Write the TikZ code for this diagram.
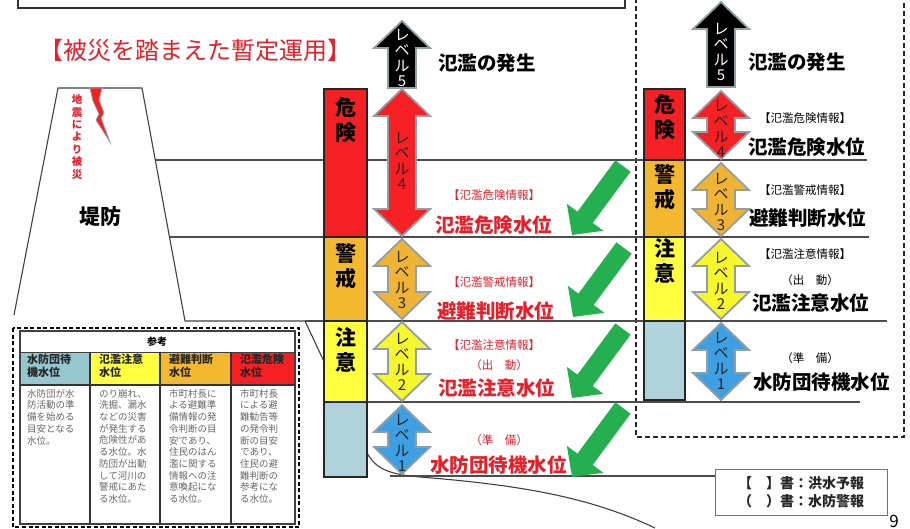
\documentclass[tikz,border=0pt]{standalone}
\usepackage{fontspec}
\setmainfont{Noto Sans CJK JP}
\usetikzlibrary{arrows.meta}

\definecolor{dangerred}{RGB}{245,32,36}
\definecolor{warnorange}{RGB}{244,184,46}
\definecolor{cautionyellow}{RGB}{255,255,64}
\definecolor{standbyblue}{RGB}{176,210,218}
\definecolor{headblue}{RGB}{150,199,206}
\definecolor{lvblue}{RGB}{62,160,226}
\definecolor{lvyellow}{RGB}{246,246,44}
\definecolor{lvorange}{RGB}{240,180,52}
\definecolor{rimgray}{RGB}{146,158,162}
\definecolor{gogreen}{RGB}{36,176,78}
\definecolor{alertred}{RGB}{232,30,40}

% two-headed level arrow: centre x, top tip, bottom tip
\newcommand{\updown}[3]{(#1,#2) -- ++(28,27) -- ++(-14,0) -- ({#1+14},{#3-27}) -- ++(14,0) -- (#1,#3) -- ++(-28,-27) -- ++(14,0) -- ({#1-14},{#2+27}) -- ++(-14,0) -- cycle}
% one-headed arrow for level 5: centre x, tip, tail
\newcommand{\uponly}[3]{(#1,#2) -- ++(28,27) -- ++(-14,0) -- ({#1+14},#3) -- ++(-28,0) -- ({#1-14},{#2+27}) -- ++(-14,0) -- cycle}

\begin{document}
\begin{tikzpicture}[x=1pt, y=-1pt,
        levelline/.style={draw=black!70, line width=1.1pt},
        bank/.style={draw=black!75, line width=1.1pt},
        bar/.style={draw=black!85, line width=1.4pt},
        barlabel/.style={font=\fontsize{21}{25}\selectfont\bfseries, align=center, inner sep=0pt},
        lvarrow/.style={draw=rimgray, line width=1.8pt, line join=miter},
        lvtext/.style={font=\fontsize{15}{15.5}\selectfont, text=black!85, align=center, inner sep=0pt},
        stage/.style={font=\fontsize{19.5}{20}\selectfont\bfseries, anchor=west, inner sep=0pt},
        notice/.style={font=\fontsize{11.5}{12}\selectfont, inner sep=0pt},
        gonext/.style={line width=19pt, draw=gogreen, -{Triangle[length=22pt, width=44pt]}},
        cellhead/.style={font=\fontsize{11}{12.5}\selectfont\bfseries, text=black!85, align=left, anchor=west, inner sep=0pt},
        cell/.style={font=\fontsize{9.5}{11.7}\selectfont, text=black!60, align=left, anchor=north west, inner sep=0pt}
    ]
    \useasboundingbox (0,0) rectangle (910,528);
    \clip (0,0) rectangle (910,528);

    % Frames
    \draw[draw=black!80, line width=1.6pt] (18,-10) rectangle (625,8);
    \draw[draw=black!85, line width=1.5pt, dash pattern=on 5pt off 3pt] (636,-10) rectangle (904,437);

    \node[font=\fontsize{24}{24}\selectfont, text=alertred] (title) at (195,50) {【被災を踏まえた暫定運用】};

    % Embankment and river bank
    \draw[bank] (14,315) -- (58,88) -- (142,88) -- (185,321) -- (305,321);
    \draw[bank] (305,321) -- (365,449) .. controls (374,468) and (386,474) .. (420,477) .. controls (520,485) and (590,497) .. (655,528);
    \filldraw[fill=dangerred, draw=rimgray, line width=0.8pt] (90,88) -- (102,88) -- (99,100) -- (104,113) -- (101,118) -- (110,142) -- (96,120) -- (99,114) -- (93,101) -- cycle;
    \node[font=\fontsize{10.5}{12.4}\selectfont\bfseries, text=alertred, align=center, inner sep=0pt] (quake) at (77,137) {地\\震\\に\\よ\\り\\被\\災};
    \node[font=\fontsize{21}{21}\selectfont\bfseries] (dike) at (100,217) {堤防};

    % Level lines
    \draw[levelline] (155,160) -- (867,160);
    \draw[levelline] (170,237) -- (869,237);
    \draw[levelline] (305,321) -- (887,321);
    \draw[levelline] (367,402) -- (860,402);

    \node[draw=black!55, line width=1pt, minimum width=172pt, minimum height=46pt, align=left,
          font=\fontsize{14}{18}\selectfont\bfseries, text=black!85] (note) at (801,492) {【　】書：洪水予報\\（　）書：水防警報};
    \coordinate (bed) at (390,476);
    \draw[levelline] (bed) -- (bed -| note.west);
    \node[font=\fontsize{17}{17}\selectfont] (pageno) at (894,521) {9};

    % Warning bars
    \draw[bar, fill=dangerred] (324,89) rectangle (367,237);
    \draw[bar, fill=warnorange] (324,237) rectangle (367,321);
    \draw[bar, fill=cautionyellow] (324,321) rectangle (367,402);
    \draw[bar, fill=standbyblue] (324,402) rectangle (367,477);
    \node[barlabel] (danger1) at (345.5,120) {危\\険};
    \node[barlabel] (warn1) at (345.5,266) {警\\戒};
    \node[barlabel] (caution1) at (345.5,350) {注\\意};

    \draw[bar, fill=dangerred] (644,89) rectangle (685,160);
    \draw[bar, fill=warnorange] (644,160) rectangle (685,237);
    \draw[bar, fill=cautionyellow] (644,237) rectangle (685,321);
    \draw[bar, fill=standbyblue] (644,321) rectangle (685,400);
    \node[barlabel] (danger2) at (664.5,117) {危\\険};
    \node[barlabel] (warn2) at (664.5,187) {警\\戒};
    \node[barlabel] (caution2) at (664.5,261) {注\\意};

    % Level arrows, provisional column
    \filldraw[lvarrow, fill=black] \uponly{402}{21}{88};
    \filldraw[lvarrow, fill=dangerred] \updown{402}{89}{236};
    \filldraw[lvarrow, fill=lvorange] \updown{402}{239}{319};
    \filldraw[lvarrow, fill=lvyellow] \updown{402}{322}{401};
    \filldraw[lvarrow, fill=lvblue] \updown{402}{405}{474};
    \node[lvtext, text=white] (lv5a) at (402,58) {レ\\ベ\\ル\\5};
    \node[lvtext] (lv4a) at (402,161) {レ\\ベ\\ル\\4};
    \node[lvtext] (lv3a) at (402,280) {レ\\ベ\\ル\\3};
    \node[lvtext] (lv2a) at (402,362) {レ\\ベ\\ル\\2};
    \node[lvtext] (lv1a) at (402,443) {レ\\ベ\\ル\\1};

    % Level arrows, usual column
    \filldraw[lvarrow, fill=black] \uponly{721}{2}{87};
    \filldraw[lvarrow, fill=dangerred] \updown{721}{91}{159};
    \filldraw[lvarrow, fill=lvorange] \updown{721}{163}{236};
    \filldraw[lvarrow, fill=lvyellow] \updown{721}{239}{319};
    \filldraw[lvarrow, fill=lvblue] \updown{721}{323}{400};
    \node[lvtext, text=white] (lv5b) at (721,52) {レ\\ベ\\ル\\5};
    \node[lvtext] (lv4b) at (721,129) {レ\\ベ\\ル\\4};
    \node[lvtext] (lv3b) at (721,202) {レ\\ベ\\ル\\3};
    \node[lvtext] (lv2b) at (721,281) {レ\\ベ\\ル\\2};
    \node[lvtext] (lv1b) at (721,361) {レ\\ベ\\ル\\1};

    % Paths: lowered levels
    \coordinate (from1) at (623,166); \coordinate (to1) at (572,235);
    \coordinate (from2) at (624,248); \coordinate (to2) at (573,317);
    \coordinate (from3) at (623,329); \coordinate (to3) at (572,398);
    \coordinate (from4) at (623,408); \coordinate (to4) at (572,477);
    \draw[gonext] (from1) -- (to1);
    \draw[gonext] (from2) -- (to2);
    \draw[gonext] (from3) -- (to3);
    \draw[gonext] (from4) -- (to4);

    % Water levels, provisional column
    \node[stage] (flood1) at (438,63) {氾濫の発生};
    \node[notice, text=alertred] (info4a) at (494,195) {【氾濫危険情報】};
    \node[stage, text=alertred] (stage4a) at (435,225) {氾濫危険水位};
    \node[notice, text=alertred] (info3a) at (494,282) {【氾濫警戒情報】};
    \node[stage, text=alertred] (stage3a) at (437,311) {避難判断水位};
    \node[notice, text=alertred] (info2a) at (494,345) {【氾濫注意情報】};
    \node[notice, text=alertred] (go2a) at (499,365) {（出　動）};
    \node[stage, text=alertred] (stage2a) at (438,388) {氾濫注意水位};
    \node[notice, text=alertred] (go1a) at (499,440) {（準　備）};
    \node[stage, text=alertred] (stage1a) at (430,465) {水防団待機水位};

    % Water levels, usual column
    \node[stage] (flood2) at (748,62) {氾濫の発生};
    \node[notice] (info4b) at (805,118) {【氾濫危険情報】};
    \node[stage] (stage4b) at (748,147) {氾濫危険水位};
    \node[notice] (info3b) at (805,190) {【氾濫警戒情報】};
    \node[stage] (stage3b) at (749,218) {避難判断水位};
    \node[notice] (info2b) at (805,254) {【氾濫注意情報】};
    \node[notice] (go2b) at (810,280) {（出　動）};
    \node[stage] (stage2b) at (752,303) {氾濫注意水位};
    \node[notice] (go1b) at (810,358) {（準　備）};
    \node[stage] (stage1b) at (753,382) {水防団待機水位};

    % Reference table
    \draw[line width=2.4pt, dash pattern=on 4pt off 2.5pt] (13,328) rectangle (299,527);
    \fill[headblue] (20,352) rectangle (90,385);
    \fill[cautionyellow] (90,352) rectangle (160,385);
    \fill[warnorange] (160,352) rectangle (231,385);
    \fill[dangerred] (231,352) rectangle (295,385);
    \draw[black!75, line width=1.3pt] (20,331) rectangle (295,524);
    \draw[black!75, line width=1pt] (20,352) -- (295,352);
    \draw[black!80, line width=1.8pt] (20,385) -- (295,385);
    \draw[black!80, line width=1.8pt] (90,352) -- (90,524) (160,352) -- (160,524) (231,352) -- (231,524);
    \node[font=\fontsize{10}{10}\selectfont\bfseries] (ref) at (157,342) {参考};
    \node[cellhead] (head1) at (27,366) {水防団待\\機水位};
    \node[cellhead] (head2) at (99,366) {氾濫注意\\水位};
    \node[cellhead] (head3) at (169,366) {避難判断\\水位};
    \node[cellhead] (head4) at (240,366) {氾濫危険\\水位};
    \node[cell] (body1) at (27,389) {水防団が水\\防活動の準\\備を始める\\目安となる\\水位。};
    \node[cell] (body2) at (99,389) {のり崩れ、\\洗掘、漏水\\などの災害\\が発生する\\危険性があ\\る水位。水\\防団が出動\\して河川の\\警戒にあた\\る水位。};
    \node[cell] (body3) at (169,389) {市町村長に\\よる避難準\\備情報の発\\令判断の目\\安であり、\\住民のはん\\濫に関する\\情報への注\\意喚起にな\\る水位。};
    \node[cell] (body4) at (240,389) {市町村長\\による避\\難勧告等\\の発令判\\断の目安\\であり、\\住民の避\\難判断の\\参考にな\\る水位。};

\end{tikzpicture}
\end{document}
